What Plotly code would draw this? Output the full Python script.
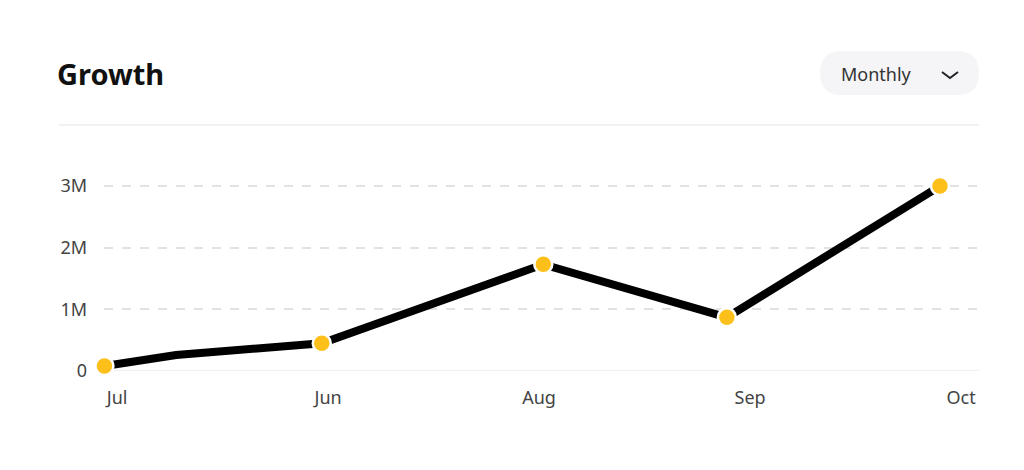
import plotly.graph_objects as go

tick_labels = ["Jul", "Jun", "Aug", "Sep", "Oct"]
tick_pos = [0, 1, 2, 3, 4]
x_vals = [-0.06, 0.28, 0.97, 2.02, 2.89, 3.90]
y_vals = [0.08, 0.26, 0.45, 1.73, 0.87, 3.0]
marker_x = [-0.06, 0.97, 2.02, 2.89, 3.90]
marker_y = [0.08, 0.45, 1.73, 0.87, 3.0]

W, H = 1024, 470
DX, DY = -9, -7
L, R, T, B = 105 + DX, 980 + DX, 124 + DY, 370 + DY
fig = go.Figure()
fig.add_trace(go.Scatter(
    x=x_vals, y=y_vals, mode="lines", cliponaxis=False,
    line=dict(color="black", width=8),
))
fig.add_trace(go.Scatter(
    x=marker_x, y=marker_y, mode="markers", cliponaxis=False,
    marker=dict(size=18, color="#FDBF1A", opacity=1, line=dict(color="white", width=2.5)),
))
fig.update_layout(
    width=W, height=H, paper_bgcolor="white", plot_bgcolor="white",
    margin=dict(l=L, r=W - R, t=T, b=H - B), showlegend=False,
    font=dict(family="Noto Sans", color="#444", size=18),
    xaxis=dict(range=[-0.062, 4.085], tickvals=tick_pos, ticktext=tick_labels,
               showgrid=False, zeroline=False, showline=False, ticks="", ticklabelstandoff=14),
    yaxis=dict(range=[0, 3.99], tickvals=[0, 1, 2, 3], ticktext=["0", "1M", "2M", "3M"],
               showgrid=True, gridcolor="#e2e2e2", griddash="dash", gridwidth=1.5,
               zeroline=False, showline=False, ticks="", ticklabelstandoff=16),
)
fig.add_shape(type="line", xref="paper", yref="y", x0=0, x1=1, y0=0, y1=0,
              line=dict(color="#ececec", width=1.5), layer="below")
def px(xp): return (xp + DX - L) / (R - L)
def py(yp): return (B - (yp + DY)) / (B - T)
fig.add_shape(type="line", xref="paper", yref="paper", x0=px(60), x1=1, y0=1, y1=1,
              line=dict(color="#ececec", width=1.5))
y0, y1 = py(94), py(50)
fig.add_shape(type="path", xref="paper", yref="paper",
              path=f"M {px(843)},{y0} L {px(958)},{y0} Q {px(980)},{y0} {px(980)},{py(72)} Q {px(980)},{y1} {px(958)},{y1} "
                   f"L {px(843)},{y1} Q {px(821)},{y1} {px(821)},{py(72)} Q {px(821)},{y0} {px(843)},{y0} Z",
              fillcolor="#f5f5f7", line=dict(width=0))
fig.add_shape(type="path", xref="paper", yref="paper",
              path=f"M {px(943)},{py(71)} L {px(951)},{py(77)} L {px(959)},{py(71)}",
              line=dict(color="#222", width=2))
fig.add_annotation(xref="paper", yref="paper", x=px(840), y=py(73), text="Monthly",
                   showarrow=False, xanchor="left", yanchor="middle",
                   font=dict(size=18, color="#333", family="Noto Sans"))
fig.add_annotation(xref="paper", yref="paper", x=px(56), y=py(72), text="<b>Growth</b>",
                   showarrow=False, xanchor="left", yanchor="middle",
                   font=dict(size=29, color="#111", family="Noto Sans"))
fig.write_html("out.html")
